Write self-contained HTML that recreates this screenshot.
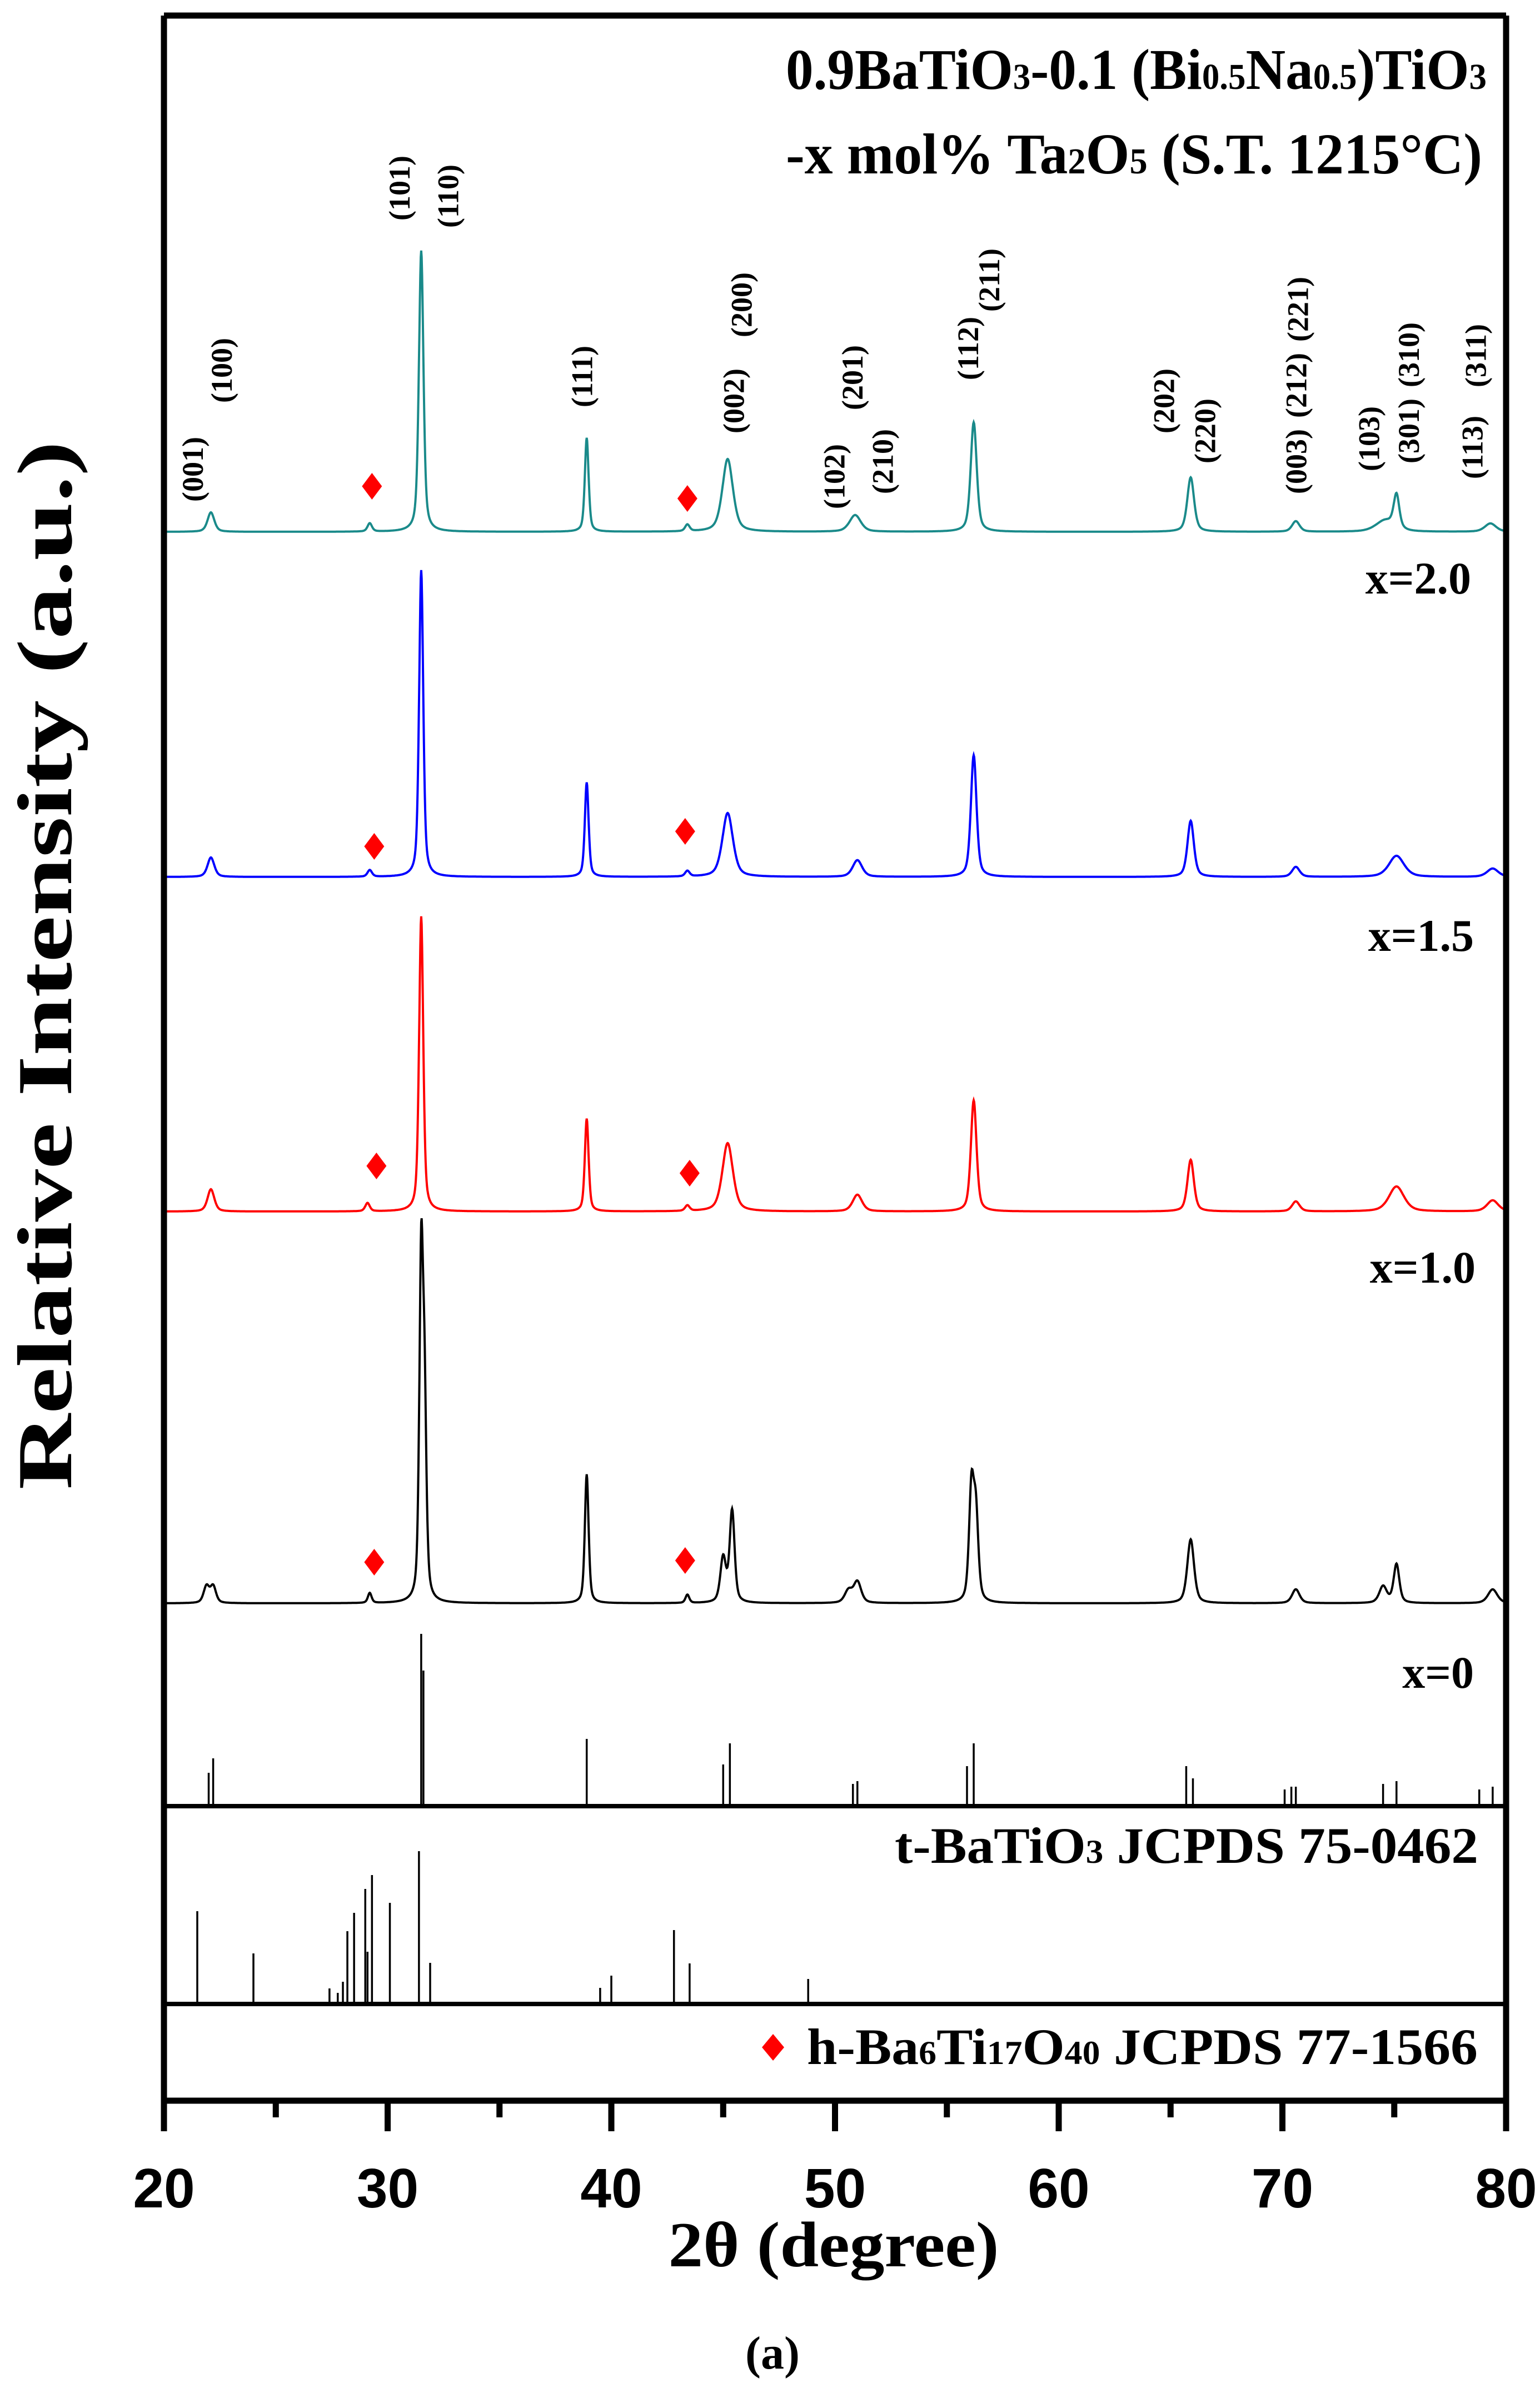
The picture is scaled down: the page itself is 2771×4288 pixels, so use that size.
<!DOCTYPE html>
<html><head><meta charset="utf-8"><style>
html,body{margin:0;padding:0;background:#fff}
svg{display:block}
.tm{font-family:"Liberation Serif",serif;font-weight:bold}
.ar{font-family:"Liberation Sans",sans-serif;font-weight:bold}
</style></head><body>
<svg id="chart" width="2771" height="4288" viewBox="0 0 2771 4288" xmlns="http://www.w3.org/2000/svg">
<g id="traces"></g>
<g id="sticks"></g>
<g id="marks"></g>
<g id="hkl"></g>
<g id="axes"></g>
<text class="tm" x="1414" y="160" font-size="104" textLength="1261" lengthAdjust="spacingAndGlyphs">0.9BaTiO<tspan font-size="66">3</tspan>-0.1 (Bi<tspan font-size="66">0.5</tspan>Na<tspan font-size="66">0.5</tspan>)TiO<tspan font-size="66">3</tspan></text>
<text class="tm" x="1414" y="312" font-size="104" textLength="1253" lengthAdjust="spacingAndGlyphs">-x mol% Ta<tspan font-size="66">2</tspan>O<tspan font-size="66">5</tspan> (S.T. 1215°C)</text>
<text class="tm" x="2647" y="1068" font-size="82" text-anchor="end">x=2.0</text>
<text class="tm" x="2652" y="1711" font-size="82" text-anchor="end">x=1.5</text>
<text class="tm" x="2655" y="2308" font-size="82" text-anchor="end">x=1.0</text>
<text class="tm" x="2652" y="3037" font-size="82" text-anchor="end">x=0</text>
<text class="tm" x="1610" y="3352" font-size="92" textLength="1050" lengthAdjust="spacingAndGlyphs">t-BaTiO<tspan font-size="60">3</tspan> JCPDS 75-0462</text>
<text class="tm" x="1452" y="3714" font-size="92" textLength="1207" lengthAdjust="spacingAndGlyphs">h-Ba<tspan font-size="60">6</tspan>Ti<tspan font-size="60">17</tspan>O<tspan font-size="60">40</tspan> JCPDS 77-1566</text>
<path d="M1391 3660 l20 24 l-20 24 l-20 -24z" fill="#ff0000"/>
<text class="tm" transform="translate(128,1737) rotate(-90)" font-size="140" text-anchor="middle" textLength="1887" lengthAdjust="spacingAndGlyphs">Relative Intensity (a.u.)</text>
<text class="tm" x="1500" y="4078" font-size="116" text-anchor="middle" textLength="595" lengthAdjust="spacingAndGlyphs">2θ  (degree)</text>
<text class="tm" x="1390" y="4262" font-size="84" text-anchor="middle">(a)</text>
</svg>
<script>
// ---- data ----
const xTicks=[20,30,40,50,60,70,80];
const xMinor=[25,35,45,55,65,75];
const traceNames=["x=2.0","x=1.5","x=1.0","x=0"];
const traceColors=["#1a8a8a","#0000ff","#ff0000","#000000"];
const traceBase=[957,1578,2180,2885];
// peak positions (deg), heights (px above baseline), half-widths (deg)
const pos20=[22.1,29.2,31.5,38.9,43.4,45.2,50.9,56.2,65.9,70.6,74.6,75.1,79.3];
const hgt20=[35,15,506,169,12,131,30,197,98,19,20,60,15];
const wid20=[0.18,0.12,0.12,0.1,0.12,0.28,0.3,0.16,0.18,0.2,0.5,0.15,0.3];
const pos15=[22.1,29.2,31.5,38.9,43.4,45.2,51.0,56.2,65.9,70.6,75.1,79.4];
const hgt15=[35,12,552,170,10,115,30,219,101,18,38,15];
const wid15=[0.18,0.12,0.11,0.1,0.12,0.28,0.25,0.15,0.17,0.2,0.4,0.3];
const pos10=[22.1,29.1,31.5,38.9,43.4,45.2,51.0,56.2,65.9,70.6,75.1,79.4];
const hgt10=[40,15,531,167,10,123,30,200,93,18,45,20];
const wid10=[0.18,0.12,0.11,0.1,0.12,0.28,0.25,0.15,0.17,0.2,0.4,0.3];
const pos00=[21.9,22.2,29.2,31.5,31.65,38.9,43.4,45.0,45.4,50.6,51.0,56.1,56.3,65.9,70.6,74.5,75.1,79.4];
const hgt00=[30,30,18,600,330,232,15,80,165,22,38,200,150,115,25,30,70,25];
const wid00=[0.15,0.15,0.1,0.1,0.1,0.1,0.1,0.15,0.13,0.2,0.2,0.13,0.13,0.18,0.2,0.2,0.15,0.25];
const tracePos=[pos20,pos15,pos10,pos00];
const traceHgt=[hgt20,hgt15,hgt10,hgt00];
const traceWid=[wid20,wid15,wid10,wid00];
// impurity diamond positions (deg) and y (px)
const diaX=[[29.3,43.4],[29.4,43.3],[29.5,43.5],[29.4,43.3]];
const diaY=[[875,897],[1523,1496],[2098,2111],[2811,2808]];
// reference sticks
const tPos=[22.0,22.2,31.5,31.6,38.9,45.0,45.3,50.8,51.0,55.9,56.2,65.7,66.0,70.1,70.4,70.6,74.5,75.1,78.8,79.4];
const tHgt=[60,86,310,244,121,75,113,40,45,72,113,72,50,30,35,35,40,45,30,35];
const hPos=[21.49,24.0,27.4,27.77,28.0,28.2,28.5,29.0,29.1,29.3,30.1,31.4,31.9,39.5,40.0,42.8,43.5,48.8];
const hHgt=[167,91,28,20,40,131,164,207,94,232,182,275,74,29,51,133,73,45];
// hkl labels: text, x (deg), bottom y(px)
const hklText=["(001)","(100)","(101)","(110)","(111)","(002)","(200)","(102)","(201)","(210)","(112)","(211)","(202)","(220)","(003)","(212)","(221)","(103)","(301)","(310)","(113)","(311)"];
const hklDeg=[21.29,22.58,30.53,32.71,38.69,45.48,45.82,49.97,50.78,52.14,55.95,56.90,64.71,66.55,70.62,70.62,70.69,73.88,75.65,75.65,78.50,78.64];
const hklBot=[903,725,397,410,733,780,607,916,738,889,684,561,780,834,889,752,615,848,834,697,862,697];

// ---- scales ----
const X0=295,X1=2710,D0=20,D1=80;
const xs=d=>X0+(d-D0)*(X1-X0)/(D1-D0);
const TOP=28,BOT=3780,DIV1=3250,DIV2=3606;
const NS="http://www.w3.org/2000/svg";
function mk(tag,parent){const e=document.createElementNS(NS,tag);parent.appendChild(e);return e;}
const gT=document.getElementById('traces'),gS=document.getElementById('sticks'),gM=document.getElementById('marks'),gH=document.getElementById('hkl'),gA=document.getElementById('axes');

// traces
for(let t=0;t<4;t++){
  const P=tracePos[t],H=traceHgt[t],W=traceWid[t];let d="";
  for(let i=0;i<=3000;i++){
    const deg=D0+i*(D1-D0)/3000;let v=0;
    for(let k=0;k<P.length;k++){const u=(deg-P[k])/W[k];v+=H[k]*(0.5/(1+u*u)+0.5*Math.exp(-0.693*u*u));}
    d+=(i?"L":"M")+xs(deg).toFixed(1)+" "+(traceBase[t]-v).toFixed(1);
  }
  const p=mk('path',gT);
  
  
  p.setAttribute('d',d);p.setAttribute('fill','none');p.setAttribute('stroke',traceColors[t]);p.setAttribute('stroke-width','4');
  for(let j=0;j<2;j++){
    const x=xs(diaX[t][j]),y=diaY[t][j];
    const m=mk('path',gM);
    
    
    m.setAttribute('d',`M${x} ${y-24} l18 24 l-18 24 l-18 -24z`);m.setAttribute('fill','#ff0000');
  }
}
// sticks
tPos.forEach((p,i)=>{const l=mk('line',gS);
  
  
  l.setAttribute('x1',xs(p));l.setAttribute('x2',xs(p));l.setAttribute('y1',DIV1);l.setAttribute('y2',DIV1-tHgt[i]);l.setAttribute('stroke','#000');l.setAttribute('stroke-width','3.5');});
hPos.forEach((p,i)=>{const l=mk('line',gS);
  
  
  l.setAttribute('x1',xs(p));l.setAttribute('x2',xs(p));l.setAttribute('y1',DIV2);l.setAttribute('y2',DIV2-hHgt[i]);l.setAttribute('stroke','#000');l.setAttribute('stroke-width','3.5');});
// hkl labels
hklText.forEach((s,i)=>{const e=mk('text',gH);
  
  
  e.setAttribute('class','tm');e.setAttribute('font-size','54');
  e.setAttribute('transform',`translate(${xs(hklDeg[i])+18},${hklBot[i]}) rotate(-90)`);e.textContent=s;});
// axes frame
function ln(x1,y1,x2,y2,w,name){const l=mk('line',gA);
  
  
  l.setAttribute('x1',x1);l.setAttribute('y1',y1);l.setAttribute('x2',x2);l.setAttribute('y2',y2);l.setAttribute('stroke','#000');l.setAttribute('stroke-width',w);}
ln(X0,TOP,X0,BOT+55,11,'left-axis');
ln(X1,TOP,X1,BOT,11,'right-axis');
ln(X0,TOP,X1,TOP,11,'top-axis');
ln(X0,BOT,X1,BOT,11,'bottom-axis');
ln(X0,DIV1,X1,DIV1,8,'divider-1');
ln(X0,DIV2,X1,DIV2,8,'divider-2');
xTicks.forEach(v=>{ln(xs(v),BOT,xs(v),BOT+55,11,'x-major-tick');
  const e=mk('text',gA);
  
  
  e.setAttribute('class','ar');e.setAttribute('font-size','100');e.setAttribute('text-anchor','middle');
  e.setAttribute('x',xs(v));e.setAttribute('y',3972);e.textContent=v;});
xMinor.forEach(v=>ln(xs(v),BOT,xs(v),BOT+30,11,'x-minor-tick'));
</script>
</body></html>
